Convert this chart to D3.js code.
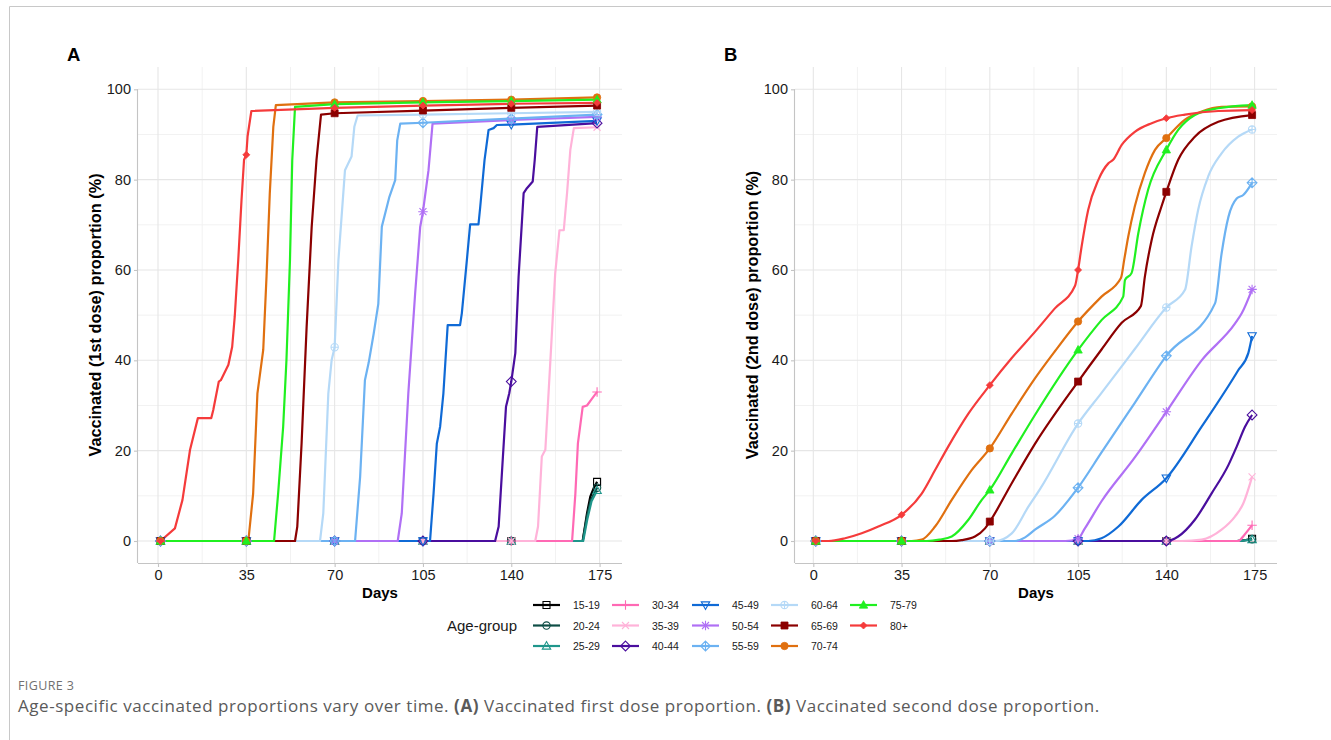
<!DOCTYPE html>
<html>
<head>
<meta charset="utf-8">
<script src="https://cdn.jsdelivr.net/npm/d3@7"></script>
<style>
  body { margin: 0; background: #fff; }
  svg { display: block; }
  text { font-family: "Liberation Sans", Arial, sans-serif; }
</style>
</head>
<body>
<svg id="fig" width="1331" height="740"></svg>
<script>
'use strict';

// ---- data ----
var ageGroups = ['15-19', '20-24', '25-29', '30-34', '35-39', '40-44', '45-49',
  '50-54', '55-59', '60-64', '65-69', '70-74', '75-79', '80+'];

var markerDays = [1, 35, 70, 105, 140, 174];
var dayTicks = [0, 35, 70, 105, 140, 175];
var pctTicks = [0, 20, 40, 60, 80, 100];

// [day, % vaccinated] per age group, same order as ageGroups
var firstDose = [
  [[1,0],[35,0],[70,0],[105,0],[140,0],[168.3,0],[170,6.1],[171.3,9.8],[172.5,11.5],[174,13.1]],
  [[1,0],[35,0],[70,0],[105,0],[140,0],[168.3,0],[170,5.5],[171.5,9],[174,11.8]],
  [[1,0],[35,0],[70,0],[105,0],[140,0],[168.5,0],[170.2,5],[171.8,8.8],[174,11.2]],
  [[1,0],[35,0],[70,0],[105,0],[140,0],[164.1,0],[165.4,10.5],[166.4,21.6],[168.3,29.7],[170,30],[172,31.5],[174,33]],
  [[1,0],[35,0],[70,0],[105,0],[140,0],[149.5,0],[150.6,3.2],[152.1,18.7],[153.5,20.2],[155.5,40],[157.4,59.2],
    [159.1,68.8],[160.8,68.8],[162.1,77],[163.4,86.6],[164.8,91.4],[174,91.6]],
  [[1,0],[35,0],[70,0],[105,0],[133.6,0],[135,3.2],[136.6,17.9],[137.9,29.7],[139.2,32.7],[140,35.3],[141.6,41.6],
    [142.9,58.5],[144.9,77],[146.2,78.1],[148.5,79.6],[149.3,84.4],[150.3,91.7],[174,92.5]],
  [[1,0],[35,0],[70,0],[105,0],[107.8,0],[109.2,10.5],[110.5,21.6],[111.8,25.3],[113.1,32.7],[114.8,47.8],[119.7,47.8],
    [120.4,50.4],[122.4,62.2],[123.7,70.1],[127,70.1],[127.7,74],[129.4,84.3],[131,91],[133,91.4],[134.3,92.1],[140,92.2],[174,93]],
  [[1,0],[35,0],[70,0],[95,0],[96.6,6.1],[99.2,32.7],[101.9,54.8],[103.9,69.5],[105,72.9],[107.2,82.1],[108.8,92.4],
    [140,93.2],[174,93.9]],
  [[1,0],[35,0],[70,0],[78.1,0],[80.1,14.2],[82,35.6],[83.5,39.5],[85.5,46],[87.3,52.5],[88.7,69.6],[91.7,76.2],
    [94,79.9],[94.8,88.7],[96,92.4],[105,92.6],[140,93.5],[174,94.4]],
  [[1,0],[35,0],[64.2,0],[65.5,6.1],[67.5,32.7],[68.8,40],[70,42.9],[71.5,62.2],[74.1,82.1],[76.7,85.1],[77.8,91.7],
    [79.1,94.2],[105,94.4],[140,94.7],[174,95]],
  [[1,0],[35,0],[54.3,0],[55.2,3.2],[56.9,21.6],[58.9,47.4],[60.9,69.5],[62.8,84.3],[64.6,94.4],[70,94.7],[105,95.3],
    [140,95.9],[174,96.4]],
  [[1,0],[35,0],[35.8,0],[37.7,10.5],[39.4,32.7],[41.7,42.3],[43,58.5],[44.3,77],[45.7,91.7],[46.7,96.5],[70,97.1],
    [105,97.4],[140,97.7],[174,98.2]],
  [[1,0],[35,0],[46,0],[47.6,10.5],[49.6,25.3],[50.9,40],[52.3,62.2],[53.2,84.3],[54.3,96.1],[70,96.7],[105,97.1],
    [140,97.4],[174,97.7]],
  [[1,0],[6.7,2.8],[9.7,9.1],[12.7,20.2],[15.8,27.2],[21.1,27.2],[21.9,29],[24.1,35.3],[24.9,35.6],[27.9,39],[29.4,43],
    [30.4,49.6],[31.8,62.2],[33.1,75.5],[34.1,84.4],[35,85.5],[35.5,89.6],[37,95.2],[70,95.9],[105,96.4],[140,96.8],[174,97]]
];

var secondDose = [
  [[1,0],[35,0],[70,0],[105,0],[140,0],[168,0],[174,0.5]],
  [[1,0],[35,0],[70,0],[105,0],[140,0],[168,0],[174,0.4]],
  [[1,0],[35,0],[70,0],[105,0],[140,0],[168,0],[174,0.3]],
  [[1,0],[35,0],[70,0],[105,0],[140,0],[168.5,0],[171,1.4],[174,3.5]],
  [[1,0],[35,0],[70,0],[105,0],[140,0],[146,0],[154,0.3],[161.9,2.5],[167.2,5.4],[170.5,8.3],[174,14.2]],
  [[1,0],[35,0],[70,0],[105,0],[140,0],[144.7,1],[151.3,4.7],[157.9,10.5],[164.6,16.8],[167.9,20.9],[171.2,25.3],[174,27.9]],
  [[1,0],[35,0],[70,0],[105,0],[109,0],[114.3,0.6],[121,3.2],[130.2,9.1],[140,13.9],[154,25.3],[168.5,37.8],[172.5,41.6],[174,45.4]],
  [[1,0],[35,0],[70,0],[100,0],[105,0.5],[107.7,2.8],[114.3,8.8],[127.5,18.5],[140,28.6],[154,40],[167.2,48.1],[169.9,50.4],[174,55.7]],
  [[1,0],[35,0],[70,0],[80,0],[84,0.8],[87.9,2.5],[95.8,5.6],[105,11.8],[114.3,19.6],[127.5,30.6],[140,41],[159.3,52.6],
    [161.9,63.6],[164.6,71.7],[167.9,75.8],[170.5,76.6],[174,79.3]],
  [[1,0],[35,0],[70,0],[72,0],[78.7,1.7],[85.3,7.6],[89.9,11.5],[105,26],[114.3,32.8],[127.5,42.5],[140,51.7],[147.4,55.6],
    [150,65.2],[152.6,73.3],[156.6,80.7],[161.9,85.8],[168.5,89.5],[174,91.1]],
  [[1,0],[35,0],[55,0],[58.8,0.2],[64.1,1],[68.1,2.8],[70,4.3],[78.7,12.8],[87.9,21.5],[105,35.3],[114.3,42.4],[122.3,48.3],
    [129.9,52],[131.5,58.6],[134.2,66.7],[138.1,74.1],[140,77.3],[144.7,84.4],[151.3,89.5],[160.6,92.8],[174,94.3]],
  [[1,0],[35,0],[39,0],[43,0.3],[48.3,3.2],[54.9,9.1],[62.8,15.7],[70,20.5],[78.7,28.2],[87.9,36],[95.8,42],[105,48.6],
    [114.3,54.1],[122,58.2],[123.3,62.3],[124.9,67.4],[127.5,74.1],[131.5,81.5],[135.5,86.6],[140,89.2],[147.4,93.3],
    [154,95.1],[161.9,96.1],[174,96.2]],
  [[1,0],[35,0],[45,0],[50,0.3],[54.9,1],[61.5,4.7],[66.8,9.1],[70,11.3],[78.7,19.4],[87.9,27.9],[105,42.3],[114.3,48.9],
    [122.9,54.1],[123.6,57.8],[126.2,59.3],[128.9,68.2],[132.8,77.8],[140,86.6],[144.7,91],[151.3,94.3],[160.6,95.8],[174,96.5]],
  [[1,0],[6,0],[12.6,0.6],[19.2,1.7],[25.8,3.2],[35,5.8],[43,10.5],[48.3,15.7],[53.5,20.9],[61.5,28.2],[70,34.5],
    [78.7,40.5],[87.9,46.3],[95.8,51.5],[103.8,56.5],[105,60],[106.4,65.2],[109,73.3],[113,79.9],[117,83.6],[118.9,84.4],
    [122.3,87.7],[127.5,90.6],[134.2,92.5],[140,93.6],[147.4,94.4],[160.6,95.2],[174,95.4]]
];

// ---- styles ----
var groupColors = ['#000000', '#0e4d45', '#1f968b', '#ff69b4', '#ffb3d9', '#4a0e9e', '#0f6ad6',
  '#b070f5', '#6cb2f2', '#b5d9f7', '#8b0000', '#e07010', '#20f020', '#f53b3b'];
var groupShapes = ['square', 'circle', 'triangle', 'plus', 'cross', 'diamond', 'triangleDown',
  'asterisk', 'diamondPlus', 'circlePlus', 'squareFilled', 'circleFilled', 'triangleFilled', 'diamondFilled'];

var svg = d3.select('#fig');

// frame
svg.append('path')
  .attr('d', 'M9.5,740 V6.5 H1331')
  .attr('fill', 'none')
  .attr('stroke', '#c8c8c8')
  .attr('stroke-width', 1);

function symbolPath(shape, s) {
  var sq = 'M' + (-s) + ',' + (-s) + 'h' + (2 * s) + 'v' + (2 * s) + 'h' + (-2 * s) + 'Z';
  var r = s * 1.05;
  var circ = 'M' + (-r) + ',0a' + r + ',' + r + ' 0 1,0 ' + (2 * r) + ',0a' + r + ',' + r + ' 0 1,0 ' + (-2 * r) + ',0Z';
  var t = s * 1.2;
  var tri = 'M0,' + (-t * 1.05) + 'L' + t + ',' + (t * 0.75) + 'L' + (-t) + ',' + (t * 0.75) + 'Z';
  var triD = 'M0,' + (t * 1.05) + 'L' + t + ',' + (-t * 0.75) + 'L' + (-t) + ',' + (-t * 0.75) + 'Z';
  var p = s * 1.35;
  var plus = 'M' + (-p) + ',0H' + p + 'M0,' + (-p) + 'V' + p;
  var c = s * 1.0;
  var cross = 'M' + (-c) + ',' + (-c) + 'L' + c + ',' + c + 'M' + (-c) + ',' + c + 'L' + c + ',' + (-c);
  var d = s * 1.4;
  var dia = 'M0,' + (-d) + 'L' + d + ',0L0,' + d + 'L' + (-d) + ',0Z';
  var ds = s * 1.0;
  var diaS = 'M0,' + (-ds) + 'L' + ds + ',0L0,' + ds + 'L' + (-ds) + ',0Z';
  switch (shape) {
    case 'square': case 'squareFilled': return sq;
    case 'circle': case 'circleFilled': return circ;
    case 'triangle': case 'triangleFilled': return tri;
    case 'triangleDown': return triD;
    case 'plus': return plus;
    case 'cross': return cross;
    case 'diamond': return dia;
    case 'asterisk': return plus + cross;
    case 'diamondPlus': return dia + 'M' + (-d) + ',0H' + d + 'M0,' + (-d) + 'V' + d;
    case 'circlePlus': return circ + 'M' + (-r) + ',0H' + r + 'M0,' + (-r) + 'V' + r;
    case 'diamondFilled': return diaS;
  }
}

function drawMarker(sel, i, size) {
  var shape = groupShapes[i];
  var filled = /Filled$/.test(shape);
  sel.attr('d', symbolPath(shape, size))
    .attr('fill', filled ? groupColors[i] : 'none')
    .attr('stroke', groupColors[i])
    .attr('stroke-width', filled ? 0.8 : 1.1);
}

var panels = [
  { tag: 'A', data: firstDose, left: 138, right: 622, x0: 158, x1: 599.6,
    yTitle: 'Vaccinated (1st dose) proportion (%)', curve: d3.curveLinear },
  { tag: 'B', data: secondDose, left: 795, right: 1277, x0: 813.3, x1: 1254.6,
    yTitle: 'Vaccinated (2nd dose) proportion (%)', curve: d3.curveMonotoneX }
];

var panelTop = 67, panelBottom = 563;
var y = d3.scaleLinear().domain([0, 100]).range([541, 89.3]);

panels.forEach(function(p) {
  var x = d3.scaleLinear().domain([0, 175]).range([p.x0, p.x1]);
  var g = svg.append('g').attr('class', 'panel' + p.tag);

  // minor grid
  var minorX = d3.range(17.5, 185, 35).filter(function(v) { return x(v) < p.right; });
  var minorY = [10, 30, 50, 70, 90];
  g.append('g').selectAll('line').data(minorX).enter().append('line')
    .attr('x1', function(d) { return x(d); }).attr('x2', function(d) { return x(d); })
    .attr('y1', panelTop).attr('y2', panelBottom)
    .attr('stroke', '#f2f2f2').attr('stroke-width', 1);
  g.append('g').selectAll('line').data(minorY).enter().append('line')
    .attr('x1', p.left).attr('x2', p.right)
    .attr('y1', function(d) { return y(d); }).attr('y2', function(d) { return y(d); })
    .attr('stroke', '#f2f2f2').attr('stroke-width', 1);

  // major grid
  g.append('g').selectAll('line').data(dayTicks).enter().append('line')
    .attr('x1', function(d) { return x(d); }).attr('x2', function(d) { return x(d); })
    .attr('y1', panelTop).attr('y2', panelBottom)
    .attr('stroke', '#e6e6e6').attr('stroke-width', 1.1);
  g.append('g').selectAll('line').data(pctTicks).enter().append('line')
    .attr('x1', p.left).attr('x2', p.right)
    .attr('y1', function(d) { return y(d); }).attr('y2', function(d) { return y(d); })
    .attr('stroke', '#e6e6e6').attr('stroke-width', 1.1);

  // axes
  var xAxis = g.append('g')
    .attr('transform', 'translate(0,' + panelBottom + ')')
    .call(d3.axisBottom(x).tickValues(dayTicks).tickSize(4).tickPadding(3));
  xAxis.select('.domain').attr('d', 'M' + p.left + ',0.5H' + p.right);
  var yAxis = g.append('g')
    .attr('transform', 'translate(' + p.left + ',0)')
    .call(d3.axisLeft(y).tickValues(pctTicks).tickSize(4).tickPadding(3));
  yAxis.select('.domain').attr('d', 'M-0.5,' + y(100) + 'V' + panelBottom);
  [xAxis, yAxis].forEach(function(a) {
    a.select('.domain').attr('stroke', '#c4c4c4').attr('stroke-width', 1.1);
    a.selectAll('.tick line').attr('stroke', '#c4c4c4').attr('stroke-width', 1.1);
    a.selectAll('.tick text').attr('fill', '#1a1a1a').style('font-size', '14.5px')
      .style('font-family', '"Liberation Sans", Arial, sans-serif');
  });

  // titles
  g.append('text')
    .attr('x', (p.left + p.right) / 2).attr('y', 598)
    .attr('text-anchor', 'middle')
    .style('font-size', '15px').style('font-weight', 'bold')
    .text('Days');
  g.append('text')
    .attr('transform', 'translate(' + (p.left - 37) + ',' + ((panelTop + panelBottom) / 2) + ') rotate(-90)')
    .attr('text-anchor', 'middle')
    .style('font-size', '16.3px').style('font-weight', 'bold')
    .text(p.yTitle);
  g.append('text')
    .attr('x', p.left - 71).attr('y', 61)
    .style('font-size', '18.5px').style('font-weight', 'bold')
    .text(p.tag);

  // lines
  var line = d3.line()
    .x(function(d) { return x(d[0]); })
    .y(function(d) { return y(d[1]); })
    .curve(p.curve);
  g.append('g').selectAll('path').data(p.data).enter().append('path')
    .attr('d', line)
    .attr('fill', 'none')
    .attr('stroke', function(d, i) { return groupColors[i]; })
    .attr('stroke-width', 2.2)
    .attr('stroke-linejoin', 'round');

  // markers at marked days
  p.data.forEach(function(series, i) {
    var pts = series.filter(function(d) { return markerDays.indexOf(d[0]) >= 0; });
    g.append('g').selectAll('path').data(pts).enter().append('path')
      .attr('transform', function(d) { return 'translate(' + x(d[0]) + ',' + y(d[1]) + ')'; })
      .each(function() { drawMarker(d3.select(this), i, 3.5); });
  });
});

// legend
var legend = svg.append('g').attr('class', 'legend');
legend.append('text')
  .attr('x', 447).attr('y', 631)
  .style('font-size', '15px').attr('fill', '#1a1a1a')
  .text('Age-group');
var colX = [533, 612, 692, 771, 850];
var rowY = [605, 625.5, 646];
ageGroups.forEach(function(name, i) {
  var cx = colX[Math.floor(i / 3)], cy = rowY[i % 3];
  var item = legend.append('g');
  item.append('line')
    .attr('x1', cx).attr('x2', cx + 27).attr('y1', cy).attr('y2', cy)
    .attr('stroke', groupColors[i]).attr('stroke-width', 2.2);
  item.append('path')
    .attr('transform', 'translate(' + (cx + 13.5) + ',' + cy + ')')
    .each(function() { drawMarker(d3.select(this), i, 3.5); });
  item.append('text')
    .attr('x', cx + 40).attr('y', cy + 4)
    .style('font-size', '10.5px').attr('fill', '#1a1a1a')
    .text(name);
});

// caption
svg.append('text')
  .attr('x', 18).attr('y', 690)
  .style('font-family', '"Open Sans", sans-serif')
  .style('font-size', '12.5px').style('letter-spacing', '0.4px').attr('fill', '#707070')
  .text('FIGURE 3');
var cap = svg.append('text')
  .attr('x', 18).attr('y', 712)
  .style('font-family', '"Open Sans", sans-serif')
  .style('font-size', '17px').style('letter-spacing', '0.55px').attr('fill', '#5a5a5a');
cap.append('tspan').text('Age-specific vaccinated proportions vary over time. ');
cap.append('tspan').style('font-weight', 'bold').text('(A)');
cap.append('tspan').text(' Vaccinated first dose proportion. ');
cap.append('tspan').style('font-weight', 'bold').text('(B)');
cap.append('tspan').text(' Vaccinated second dose proportion.');
</script>
</body>
</html>
